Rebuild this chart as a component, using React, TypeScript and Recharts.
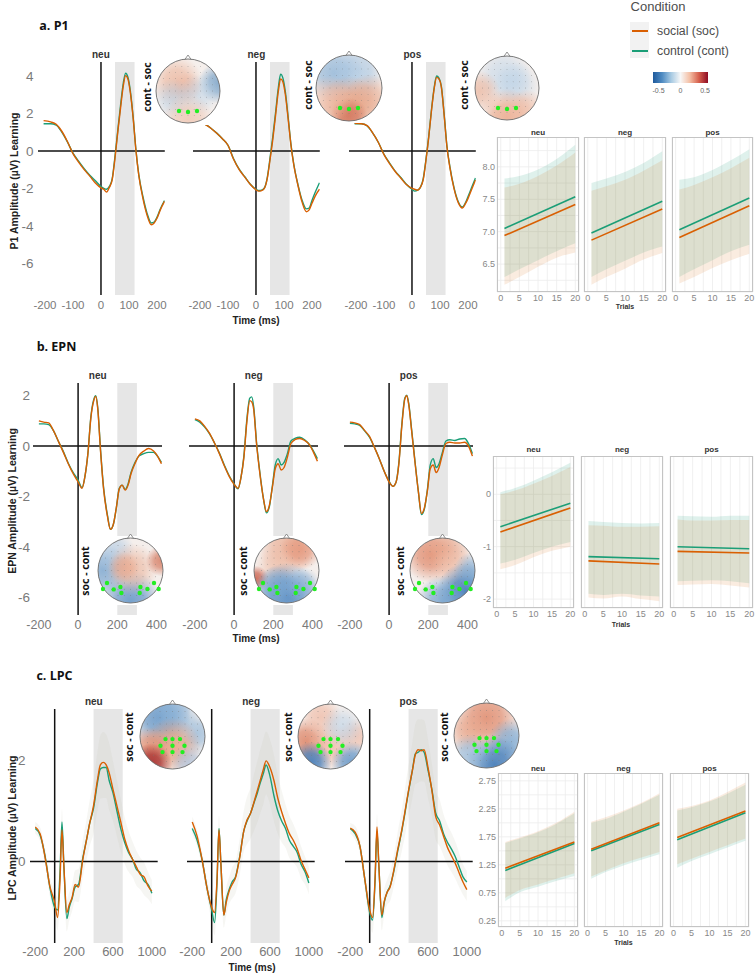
import React from 'react';
import { ComposedChart, Line, Area, XAxis, YAxis, ReferenceLine, ReferenceArea, CartesianGrid } from 'recharts';

const SOC = '#d95f02';
const CONT = '#1b9e77';
const FONT = '"Liberation Sans", Arial, sans-serif';
const TICK_GREY = '#7a7a7a';

// ---------- ERP waveforms (ms, µV) ----------
const P1_T = [-205, -180, -160, -140, -120, -100, -80, -60, -40, -20, 0, 10, 20, 30, 40, 50, 60, 70, 80, 88, 96, 105, 115, 125, 135, 150, 165, 180, 190, 200, 212, 227];
const p1NeuSoc = [1.62, 1.55, 1.42, 1.05, 0.5, -0.15, -0.6, -1.0, -1.35, -1.72, -1.98, -2.05, -2.2, -1.95, -1.55, -0.4, 1.0, 2.3, 3.5, 4.02, 3.85, 3.1, 1.75, 0.0, -1.3, -2.55, -3.45, -3.95, -3.85, -3.6, -3.15, -2.7];
const p1NeuCont = [1.45, 1.45, 1.38, 1.0, 0.48, -0.12, -0.55, -0.95, -1.3, -1.6, -1.9, -2.0, -2.05, -1.9, -1.5, -0.3, 1.1, 2.45, 3.65, 4.15, 3.95, 3.2, 1.8, 0.05, -1.25, -2.45, -3.35, -3.85, -3.8, -3.55, -3.1, -2.65];
const p1NegSoc = [1.6, 1.4, 1.2, 0.94, 0.65, 0.3, -0.45, -1.0, -1.4, -1.8, -2.08, -2.15, -2.12, -2.0, -1.5, -0.5, 0.6, 1.9, 3.2, 3.85, 3.7, 3.0, 1.7, 0.3, -0.75, -1.85, -2.75, -3.25, -3.15, -2.8, -2.4, -2.05];
const p1NegCont = [1.5, 1.4, 1.2, 0.95, 0.65, 0.3, -0.42, -0.98, -1.38, -1.78, -2.05, -2.12, -2.1, -1.98, -1.45, -0.4, 0.75, 2.05, 3.4, 4.1, 3.9, 3.15, 1.8, 0.35, -0.7, -1.8, -2.65, -3.1, -3.05, -2.65, -2.2, -1.7];
const p1PosSoc = [1.48, 1.45, 1.35, 0.95, 0.45, -0.2, -0.68, -1.1, -1.45, -1.8, -2.0, -2.05, -2.1, -1.95, -1.55, -0.5, 0.75, 2.2, 3.4, 3.93, 3.85, 3.4, 1.9, 0.2, -0.85, -2.0, -2.75, -3.05, -2.85, -2.55, -2.1, -1.55];
const p1PosCont = [1.45, 1.45, 1.33, 0.95, 0.45, -0.18, -0.65, -1.08, -1.42, -1.78, -2.05, -2.15, -2.1, -1.95, -1.5, -0.45, 0.8, 2.25, 3.45, 4.0, 3.9, 3.45, 1.95, 0.25, -0.8, -1.95, -2.7, -3.0, -2.8, -2.45, -2.0, -1.45];

const EPN_T = [-200, -175, -150, -125, -100, -75, -50, -25, 0, 20, 35, 50, 65, 80, 90, 100, 115, 130, 150, 165, 180, 195, 210, 225, 240, 255, 270, 290, 310, 335, 360, 385, 405, 425];
const epnNeuSoc = [1.0, 0.95, 0.92, 0.6, 0.18, -0.25, -0.7, -1.1, -1.42, -1.68, -1.2, -0.3, 1.1, 1.8, 1.97, 1.5, -0.25, -1.7, -2.8, -3.3, -3.1, -2.45, -1.7, -1.55, -1.75, -1.55, -1.1, -0.7, -0.38, -0.2, -0.1, -0.2, -0.4, -0.7];
const epnNeuCont = [0.88, 0.88, 0.85, 0.6, 0.18, -0.22, -0.68, -1.05, -1.35, -1.65, -1.2, -0.3, 1.15, 1.85, 2.0, 1.55, -0.2, -1.65, -2.75, -3.3, -3.1, -2.45, -1.68, -1.55, -1.72, -1.5, -1.05, -0.65, -0.4, -0.3, -0.25, -0.25, -0.4, -0.65];
const epnNegSoc = [1.08, 1.0, 0.78, 0.5, 0.12, -0.3, -0.78, -1.2, -1.52, -1.68, -1.25, -0.45, 0.95, 1.8, 1.75, 1.45, 0.05, -1.0, -2.1, -2.6, -2.35, -1.65, -0.9, -0.7, -0.95, -0.85, -0.5, 0.1, 0.25, 0.3, 0.22, 0.05, -0.25, -0.6];
const epnNegCont = [1.05, 0.95, 0.75, 0.48, 0.12, -0.28, -0.75, -1.18, -1.5, -1.7, -1.25, -0.4, 1.05, 1.9, 1.95, 1.55, 0.1, -0.95, -2.1, -2.65, -2.4, -1.6, -0.75, -0.5, -0.75, -0.65, -0.35, 0.2, 0.3, 0.35, 0.25, 0.05, -0.2, -0.5];
const epnPosSoc = [0.95, 0.92, 0.85, 0.62, 0.38, -0.05, -0.5, -1.0, -1.42, -1.6, -1.45, -0.7, 0.8, 1.85, 2.0, 1.65, 0.6, -0.5, -1.85, -2.67, -2.45, -1.8, -0.9, -0.75, -1.05, -0.85, -0.4, 0.1, 0.15, 0.12, 0.12, 0.15, 0.0, -0.4];
const epnPosCont = [0.9, 0.88, 0.82, 0.6, 0.35, -0.05, -0.5, -1.0, -1.4, -1.6, -1.45, -0.65, 0.85, 1.9, 2.02, 1.7, 0.65, -0.45, -1.85, -2.72, -2.5, -1.75, -0.75, -0.5, -0.85, -0.7, -0.3, 0.2, 0.25, 0.22, 0.28, 0.3, 0.1, -0.3];

const LPC_T = [-200, -150, -100, -50, 0, 30, 55, 75, 95, 125, 150, 180, 210, 245, 290, 330, 360, 400, 440, 470, 500, 530, 560, 600, 640, 680, 720, 760, 800, 840, 880, 920, 960, 1000];
const lpcNeuSoc = [0.68, 0.55, 0.1, -0.48, -0.8, -1.1, -0.36, 0.62, -0.1, -1.0, -0.85, -0.7, -0.45, -0.5, 0.05, 0.45, 0.75, 1.1, 1.6, 1.9, 1.95, 1.9, 1.75, 1.42, 1.1, 0.78, 0.45, 0.22, 0.05, -0.1, -0.25, -0.3, -0.48, -0.58];
const lpcNeuCont = [0.65, 0.52, 0.12, -0.5, -0.9, -0.95, -0.2, 0.78, -0.1, -1.12, -0.9, -0.72, -0.5, -0.45, 0.08, 0.45, 0.75, 1.05, 1.55, 1.82, 1.85, 1.85, 1.6, 1.35, 1.0, 0.65, 0.38, 0.18, 0.05, -0.15, -0.22, -0.38, -0.45, -0.62];
const lpcNegSoc = [0.78, 0.5, 0.05, -0.5, -0.9, -1.0, -0.35, 0.62, -0.05, -1.05, -0.8, -0.58, -0.45, -0.32, 0.1, 0.6, 0.8, 0.95, 1.2, 1.4, 1.6, 1.8, 1.98, 1.85, 1.6, 1.25, 0.98, 0.75, 0.55, 0.42, 0.25, 0.02, -0.15, -0.32];
const lpcNegCont = [0.65, 0.42, 0.05, -0.5, -0.95, -1.2, -0.4, 0.65, -0.05, -1.05, -0.75, -0.55, -0.4, -0.3, 0.12, 0.6, 0.78, 0.95, 1.18, 1.35, 1.55, 1.72, 1.9, 1.68, 1.3, 1.0, 0.8, 0.65, 0.42, 0.3, 0.18, -0.05, -0.2, -0.42];
const lpcPosSoc = [0.66, 0.58, 0.3, -0.35, -0.95, -1.1, -0.35, 0.68, -0.1, -1.05, -0.78, -0.6, -0.5, -0.2, 0.25, 0.62, 0.95, 1.4, 1.8, 2.1, 2.2, 2.18, 2.2, 1.85, 1.4, 0.88, 0.72, 0.5, 0.28, 0.12, -0.03, -0.22, -0.4, -0.55];
const lpcPosCont = [0.65, 0.55, 0.3, -0.35, -1.0, -1.15, -0.4, 0.6, -0.1, -1.1, -0.8, -0.6, -0.48, -0.22, 0.22, 0.6, 0.92, 1.38, 1.8, 2.12, 2.15, 2.2, 2.15, 1.8, 1.42, 0.95, 0.8, 0.55, 0.38, 0.25, 0.1, -0.1, -0.3, -0.4];
const lpcCiHalf = [0.1, 0.12, 0.15, 0.18, 0.22, 0.25, 0.25, 0.25, 0.25, 0.25, 0.25, 0.25, 0.28, 0.3, 0.35, 0.4, 0.45, 0.5, 0.55, 0.58, 0.6, 0.6, 0.58, 0.55, 0.5, 0.45, 0.42, 0.38, 0.35, 0.32, 0.3, 0.28, 0.25, 0.22];

// ---------- model estimates over trials ----------
const LINE_TRIALS = [1, 20];
const BAND_TRIALS = [1, 5, 10, 15, 20];
const TRIAL_TICKS = [0, 2.5, 5, 7.5, 10, 12.5, 15, 17.5, 20];

const p1NeuLine = { soc: [6.94, 7.42], cont: [7.05, 7.54] };
const p1NegLine = { soc: [6.87, 7.35], cont: [6.98, 7.47] };
const p1PosLine = { soc: [6.91, 7.4], cont: [7.03, 7.52] };
const p1NeuBand = { socLo: [6.18, 6.3, 6.46, 6.6, 6.68], socHi: [7.68, 7.74, 7.86, 8.02, 8.22], contLo: [6.3, 6.42, 6.56, 6.7, 6.82], contHi: [7.82, 7.86, 7.96, 8.12, 8.34] };
const p1NegBand = { socLo: [6.18, 6.3, 6.43, 6.57, 6.67], socHi: [7.63, 7.7, 7.8, 7.94, 8.1], contLo: [6.3, 6.42, 6.55, 6.68, 6.77], contHi: [7.75, 7.82, 7.92, 8.06, 8.24] };
const p1PosBand = { socLo: [6.2, 6.3, 6.44, 6.56, 6.66], socHi: [7.65, 7.72, 7.84, 7.98, 8.14], contLo: [6.3, 6.42, 6.56, 6.7, 6.8], contHi: [7.8, 7.84, 7.95, 8.1, 8.27] };

const epnNeuLine = { soc: [-0.72, -0.26], cont: [-0.62, -0.17] };
const epnNegLine = { soc: [-1.27, -1.33], cont: [-1.19, -1.23] };
const epnPosLine = { soc: [-1.09, -1.12], cont: [-1.0, -1.04] };
const epnNeuBand = { socLo: [-1.43, -1.35, -1.2, -1.08, -1.0], socHi: [0.0, 0.07, 0.2, 0.35, 0.52], contLo: [-1.32, -1.25, -1.12, -1.0, -0.91], contHi: [0.04, 0.12, 0.26, 0.42, 0.6] };
const epnNegBand = { socLo: [-1.97, -1.99, -1.95, -2.0, -2.04], socHi: [-0.59, -0.6, -0.62, -0.62, -0.61], contLo: [-1.9, -1.92, -1.9, -1.93, -1.95], contHi: [-0.51, -0.53, -0.55, -0.56, -0.55] };
const epnPosBand = { socLo: [-1.73, -1.72, -1.71, -1.74, -1.78], socHi: [-0.48, -0.5, -0.5, -0.49, -0.49], contLo: [-1.66, -1.65, -1.64, -1.66, -1.7], contHi: [-0.41, -0.42, -0.43, -0.41, -0.41] };

const lpcNeuLine = { soc: [1.19, 1.66], cont: [1.15, 1.63] };
const lpcNegLine = { soc: [1.53, 2.0], cont: [1.5, 1.97] };
const lpcPosLine = { soc: [1.74, 2.21], cont: [1.7, 2.18] };
const lpcNeuBand = { socLo: [0.66, 0.8, 0.9, 1.0, 1.1], socHi: [1.66, 1.74, 1.85, 2.0, 2.2], contLo: [0.6, 0.76, 0.86, 0.96, 1.05], contHi: [1.64, 1.72, 1.83, 1.98, 2.17] };
const lpcNegBand = { socLo: [1.04, 1.15, 1.28, 1.38, 1.48], socHi: [2.02, 2.1, 2.22, 2.36, 2.53], contLo: [1.0, 1.12, 1.24, 1.34, 1.44], contHi: [2.0, 2.07, 2.2, 2.34, 2.5] };
const lpcPosBand = { socLo: [1.26, 1.36, 1.48, 1.6, 1.72], socHi: [2.25, 2.3, 2.4, 2.55, 2.72], contLo: [1.2, 1.32, 1.44, 1.56, 1.68], contHi: [2.22, 2.28, 2.38, 2.52, 2.68] };

// ---------- topography blobs [dx, dy, radius (in r units), colour, opacity] ----------
type Blob = [number, number, number, string, number];
const TOPO = {
  p1neu: [[-0.35, -0.3, 0.5, '#e9a586', 0.6], [0.0, -0.1, 0.3, '#eab09a', 0.5], [0.95, -0.25, 0.4, '#6b9ac4', 0.75], [-0.45, 0.25, 0.4, '#a9c6e0', 0.5], [0.35, 0.1, 0.4, '#b9d1e6', 0.55], [0, 0.9, 0.5, '#eec0aa', 0.7]] as Blob[],
  p1neg: [[-0.45, -0.45, 0.55, '#8fb5d8', 0.8], [0.3, -0.55, 0.5, '#a8c6e2', 0.7], [0.4, -0.1, 0.35, '#bcd3e8', 0.5], [0, 0.6, 0.6, '#e39a7a', 0.85], [0.6, 0.3, 0.45, '#e8a88b', 0.7], [0, 0.85, 0.35, '#cf6a52', 0.7], [-0.6, 0.35, 0.45, '#eeb79f', 0.6]] as Blob[],
  p1pos: [[-0.1, -0.4, 0.55, '#bcd3e8', 0.6], [0.3, -0.1, 0.45, '#b0cce5', 0.5], [-0.85, 0.1, 0.4, '#eab39b', 0.7], [0, 0.9, 0.55, '#eaa687', 0.8], [0.6, 0.6, 0.35, '#eeb8a0', 0.6]] as Blob[],
  epnneu: [[-0.85, 0.0, 0.5, '#7fa9d1', 0.85], [0, 0.95, 0.6, '#5f93c6', 0.85], [-0.5, -0.6, 0.4, '#a9c6e2', 0.6], [0.05, -0.05, 0.5, '#eab39b', 0.7], [0.95, -0.3, 0.3, '#d4765b', 0.8], [-0.2, -0.1, 0.3, '#e79f82', 0.6]] as Blob[],
  epnneg: [[0, -0.7, 0.55, '#eaad93', 0.8], [0.45, -0.65, 0.4, '#e49478', 0.8], [-0.35, -0.1, 0.4, '#eebda7', 0.6], [-0.95, 0.25, 0.25, '#c95c48', 0.85], [0, 0.8, 0.65, '#4f86c0', 0.9], [-0.3, 0.5, 0.4, '#7aa7d1', 0.7], [0.5, 0.45, 0.35, '#8ab2d7', 0.6]] as Blob[],
  epnpos: [[-0.35, -0.5, 0.55, '#e08a6c', 0.85], [0.2, -0.6, 0.45, '#e9a88d', 0.7], [0.3, -0.1, 0.4, '#f0c3af', 0.6], [0.7, 0.65, 0.55, '#3f79b7', 0.9], [0, 0.95, 0.5, '#6e9fcd', 0.8], [0.9, 0.0, 0.35, '#7aa7d1', 0.7]] as Blob[],
  lpcneu: [[-0.4, -0.6, 0.6, '#5f93c6', 0.85], [0.1, -0.7, 0.45, '#8ab2d7', 0.7], [0.75, -0.1, 0.4, '#8fb5d8', 0.7], [0.0, 0.3, 0.55, '#e39a7a', 0.8], [-0.7, 0.35, 0.4, '#e08a6c', 0.8], [-0.65, 0.85, 0.4, '#a52a2a', 0.9], [0.5, 0.8, 0.35, '#9cbde0', 0.6]] as Blob[],
  lpcneg: [[-0.75, 0.15, 0.45, '#dd8466', 0.85], [-0.3, -0.6, 0.4, '#eeb6a0', 0.7], [0, 0.3, 0.45, '#eeb39b', 0.7], [0.8, 0.0, 0.35, '#eab09a', 0.6], [-0.6, 0.8, 0.4, '#3f79b7', 0.9], [0.65, 0.8, 0.4, '#5f93c6', 0.85], [0.35, -0.3, 0.4, '#b8d0e6', 0.6]] as Blob[],
  lpcpos: [[0, -0.55, 0.65, '#e08a6c', 0.85], [-0.6, -0.1, 0.4, '#e9a88d', 0.7], [0.75, 0.2, 0.45, '#7aa7d1', 0.8], [0.25, 0.9, 0.55, '#3f79b7', 0.9], [-0.5, 0.6, 0.4, '#8ab2d7', 0.7]] as Blob[],
};
const PICKS_P1 = [[-9, 20], [0, 21], [9, 20]];
const PICKS_EPN = [[-27.5, 18.5], [-23.5, 12.5], [-16.8, 18.9], [-10.1, 16.5], [-9.1, 22.5], [9.9, 16.5], [9.2, 22.5], [16.9, 18.5], [23.5, 12.5], [28.2, 18.5]];
const PICKS_LPC = [[-7, 2.6], [0, 2.6], [7.5, 2.6], [-12, 9.3], [0, 9.3], [12, 9.3], [-10, 15.6], [0, 15.6], [10, 15.6]];

type Rect = { l: number; t: number; w: number; h: number };

function erpRows(times: number[], soc: number[], cont: number[], half?: number[]) {
  return times.map((t, i) => ({
    t,
    soc: soc[i],
    cont: cont[i],
    band: half ? [Math.min(soc[i], cont[i]) - half[i], Math.max(soc[i], cont[i]) + half[i]] : undefined,
  }));
}

function trialRows(line: { soc: number[]; cont: number[] }, band: { socLo: number[]; socHi: number[]; contLo: number[]; contHi: number[] }) {
  return BAND_TRIALS.map((t, i) => {
    const li = LINE_TRIALS.indexOf(t);
    return {
      t,
      soc: li >= 0 ? line.soc[li] : null,
      cont: li >= 0 ? line.cont[li] : null,
      socBand: [band.socLo[i], band.socHi[i]],
      contBand: [band.contLo[i], band.contHi[i]],
    };
  });
}

function Txt({ x, y, text, size, bold, color, rotate, family }: any) {
  return (
    <div
      style={{
        position: 'absolute',
        left: x,
        top: y,
        transform: `translate(-50%, -50%)${rotate ? ' rotate(-90deg)' : ''}`,
        fontSize: size,
        fontWeight: bold ? 700 : 400,
        color: color || '#222',
        whiteSpace: 'nowrap',
        fontFamily: family || FONT,
        lineHeight: 1,
      }}
    >
      {text}
    </div>
  );
}

const SIDE = 18; // room either side so edge tick labels are not cut

function ErpPanel({ rows, xDomain, yDomain, xTicks, yTicks, win, rect, showY, band, xFont, yFont, xGap, yGap }: any) {
  const yW = showY ? 34 : 0;
  const xH = 26;
  return (
    <div style={{ position: 'absolute', left: rect.l - yW - SIDE, top: rect.t }}>
      <ComposedChart width={rect.w + yW + 2 * SIDE} height={rect.h + xH} data={rows} margin={{ top: 0, right: SIDE, bottom: 0, left: SIDE }}>
        <XAxis
          dataKey="t"
          type="number"
          domain={xDomain}
          ticks={xTicks}
          allowDataOverflow
          axisLine={false}
          tickLine={false}
          tickSize={xGap}
          tickMargin={2}
          interval={0}
          height={xH}
          tick={{ fill: TICK_GREY, fontSize: xFont, fontFamily: FONT }}
        />
        <YAxis
          type="number"
          domain={yDomain}
          ticks={yTicks}
          allowDataOverflow
          width={yW}
          axisLine={false}
          tickLine={false}
          tickSize={2}
          tickMargin={yGap}
          interval={0}
          tick={showY ? { fill: TICK_GREY, fontSize: yFont, fontFamily: FONT } : false}
        />
        <ReferenceArea x1={win[0]} x2={win[1]} fill="#e6e6e6" fillOpacity={1} stroke="none" />
        {band && (
          <Area dataKey="band" type="monotone" stroke="none" fill="#c9c9b6" fillOpacity={0.16} isAnimationActive={false} />
        )}
        <ReferenceLine x={0} stroke="#111" strokeWidth={1.5} />
        <ReferenceLine y={0} stroke="#111" strokeWidth={1.5} />
        <Line dataKey="cont" type="monotone" stroke={CONT} strokeWidth={1.4} dot={false} isAnimationActive={false} />
        <Line dataKey="soc" type="monotone" stroke={SOC} strokeWidth={1.4} dot={false} isAnimationActive={false} />
      </ComposedChart>
    </div>
  );
}

function TrialPanel({ rows, yDomain, yTicks, yMajor, yFmt, rect, showY }: any) {
  const yW = showY ? 26 : 0;
  const xH = 14;
  const side = 6;
  return (
    <>
      <div style={{ position: 'absolute', left: rect.l - yW - side, top: rect.t }}>
        <ComposedChart width={rect.w + yW + 2 * side} height={rect.h + xH} data={rows} margin={{ top: 0, right: side, bottom: 0, left: side }}>
          <CartesianGrid stroke="#ececec" strokeWidth={0.8} />
          <XAxis
            dataKey="t"
            type="number"
            domain={[-1, 21]}
            ticks={TRIAL_TICKS}
            tickFormatter={(v: number) => (v % 5 === 0 ? String(v) : '')}
            allowDataOverflow
            axisLine={false}
            tickLine={false}
            tickSize={1}
            tickMargin={2}
            interval={0}
            height={xH}
            tick={{ fill: '#888', fontSize: 9, fontFamily: FONT }}
          />
          <YAxis
            type="number"
            domain={yDomain}
            ticks={yTicks}
            tickFormatter={(v: number) => (yMajor.includes(v) ? yFmt(v) : '')}
            allowDataOverflow
            width={yW}
            axisLine={false}
            tickLine={false}
            tickSize={1}
            tickMargin={1}
            interval={0}
            tick={showY ? { fill: '#888', fontSize: 9, fontFamily: FONT } : false}
          />
          <Area dataKey="contBand" type="monotone" stroke="none" fill={CONT} fillOpacity={0.14} isAnimationActive={false} />
          <Area dataKey="socBand" type="monotone" stroke="none" fill={SOC} fillOpacity={0.12} isAnimationActive={false} />
          <Line dataKey="cont" connectNulls stroke={CONT} strokeWidth={1.6} dot={false} isAnimationActive={false} />
          <Line dataKey="soc" connectNulls stroke={SOC} strokeWidth={1.6} dot={false} isAnimationActive={false} />
        </ComposedChart>
      </div>
      <div style={{ position: 'absolute', left: rect.l, top: rect.t, width: rect.w, height: rect.h, border: '1px solid #c4c4c4', boxSizing: 'border-box' }} />
    </>
  );
}

function Topo({ id, cx, cy, r, blobs, picks }: any) {
  const pad = 2;
  const nose = 4;
  const w = 2 * r + 2 * pad;
  const h = 2 * r + 2 * pad + nose;
  const ox = r + pad;
  const oy = r + pad + nose;
  const dots: number[][] = [];
  const step = r / 5.2;
  for (let i = -6; i <= 6; i++) {
    for (let j = -6; j <= 6; j++) {
      const x = i * step;
      const y = j * step;
      if (x * x + y * y < (r * 0.93) * (r * 0.93)) dots.push([x, y]);
    }
  }
  return (
    <svg style={{ position: 'absolute', left: cx - ox, top: cy - oy }} width={w} height={h}>
      <defs>
        <clipPath id={`${id}-clip`}>
          <circle cx={ox} cy={oy} r={r} />
        </clipPath>
        {blobs.map((b: Blob, k: number) => (
          <radialGradient key={k} id={`${id}-g${k}`}>
            <stop offset="0" stopColor={b[3]} stopOpacity={b[4]} />
            <stop offset="0.45" stopColor={b[3]} stopOpacity={b[4] * 0.8} />
            <stop offset="1" stopColor={b[3]} stopOpacity={0} />
          </radialGradient>
        ))}
      </defs>
      <rect x={0} y={nose} width={w} height={h - nose} fill="#fff" />
      <polygon points={`${ox - 3.5},${oy - r + 1} ${ox},${oy - r - 4} ${ox + 3.5},${oy - r + 1}`} fill="#fff" stroke="#777" strokeWidth={0.8} />
      <g clipPath={`url(#${id}-clip)`}>
        <circle cx={ox} cy={oy} r={r} fill="#f5efec" />
        {blobs.map((b: Blob, k: number) => (
          <circle key={k} cx={ox + b[0] * r} cy={oy + b[1] * r} r={b[2] * r * 1.6} fill={`url(#${id}-g${k})`} />
        ))}
        {dots.map((d, k) => (
          <circle key={k} cx={ox + d[0]} cy={oy + d[1]} r={0.4} fill="#777" />
        ))}
      </g>
      <circle cx={ox} cy={oy} r={r} fill="none" stroke="#6b6b6b" strokeWidth={0.9} />
      {picks.map((p: number[], k: number) => (
        <circle key={k} cx={ox + p[0]} cy={oy + p[1]} r={2.2} fill="#22ee22" />
      ))}
    </svg>
  );
}

const P1_Y = [-7.7, 4.75];
const EPN_Y = [-6.7, 2.5];
const LPC_Y = [-1.6, 3.0];

export default function App() {
  const p1Rects: Rect[] = [
    { l: 37.5, t: 62, w: 126.8, h: 233 },
    { l: 193, t: 62, w: 126.8, h: 233 },
    { l: 349, t: 62, w: 126.8, h: 233 },
  ];
  const epnRects: Rect[] = [
    { l: 33.2, t: 383, w: 129, h: 232 },
    { l: 189.2, t: 383, w: 129, h: 232 },
    { l: 344.2, t: 383, w: 129, h: 232 },
  ];
  const lpcRects: Rect[] = [
    { l: 30, t: 709, w: 127.7, h: 234 },
    { l: 187.3, t: 709, w: 127.7, h: 234 },
    { l: 344.6, t: 709, w: 127.7, h: 234 },
  ];
  const p1Trial: Rect[] = [
    { l: 497, t: 137, w: 82, h: 155 },
    { l: 584, t: 137, w: 82, h: 155 },
    { l: 672, t: 137, w: 81, h: 155 },
  ];
  const epnTrial: Rect[] = [
    { l: 493, t: 456, w: 81, h: 152 },
    { l: 581, t: 456, w: 82, h: 152 },
    { l: 670, t: 456, w: 83, h: 152 },
  ];
  const lpcTrial: Rect[] = [
    { l: 498, t: 773, w: 80, h: 154 },
    { l: 584, t: 773, w: 79, h: 154 },
    { l: 670, t: 773, w: 79, h: 154 },
  ];
  const labels = ['neu', 'neg', 'pos'];

  const p1Erp = [erpRows(P1_T, p1NeuSoc, p1NeuCont), erpRows(P1_T, p1NegSoc, p1NegCont), erpRows(P1_T, p1PosSoc, p1PosCont)];
  const epnErp = [erpRows(EPN_T, epnNeuSoc, epnNeuCont), erpRows(EPN_T, epnNegSoc, epnNegCont), erpRows(EPN_T, epnPosSoc, epnPosCont)];
  const lpcErp = [
    erpRows(LPC_T, lpcNeuSoc, lpcNeuCont, lpcCiHalf),
    erpRows(LPC_T, lpcNegSoc, lpcNegCont, lpcCiHalf),
    erpRows(LPC_T, lpcPosSoc, lpcPosCont, lpcCiHalf),
  ];
  const p1Tr = [trialRows(p1NeuLine, p1NeuBand), trialRows(p1NegLine, p1NegBand), trialRows(p1PosLine, p1PosBand)];
  const epnTr = [trialRows(epnNeuLine, epnNeuBand), trialRows(epnNegLine, epnNegBand), trialRows(epnPosLine, epnPosBand)];
  const lpcTr = [trialRows(lpcNeuLine, lpcNeuBand), trialRows(lpcNegLine, lpcNegBand), trialRows(lpcPosLine, lpcPosBand)];

  return (
    <div style={{ position: 'absolute', left: 0, top: 0, width: 756, height: 975, background: '#fff', fontFamily: FONT, overflow: 'hidden' }}>
      {/* section titles */}
      <Txt x={54} y={25.5} text="a. P1" size={12.5} bold color="#111" family='"Open Sans", sans-serif' />
      <Txt x={56.5} y={346.5} text="b. EPN" size={12.5} bold color="#111" family='"Open Sans", sans-serif' />
      <Txt x={54.5} y={676} text="c. LPC" size={12.5} bold color="#111" family='"Open Sans", sans-serif' />

      {/* ERP panels */}
      {p1Rects.map((r, i) => (
        <ErpPanel key={`p1${i}`} rows={p1Erp[i]} xDomain={[-225, 228]} yDomain={P1_Y} xTicks={[-200, -100, 0, 100, 200]} yTicks={[-6, -4, -2, 0, 2, 4]} win={[50, 120]} rect={r} showY={i === 0} xFont={11.5} yFont={13.5} xGap={4} yGap={2.5} />
      ))}
      {epnRects.map((r, i) => (
        <ErpPanel key={`epn${i}`} rows={epnErp[i]} xDomain={[-230, 428]} yDomain={EPN_Y} xTicks={[-200, 0, 200, 400]} yTicks={[-6, -4, -2, 0, 2]} win={[200, 300]} rect={r} showY={i === 0} xFont={12.5} yFont={13.5} xGap={3.5} yGap={1} />
      ))}
      {lpcRects.map((r, i) => (
        <ErpPanel key={`lpc${i}`} rows={lpcErp[i]} xDomain={[-254, 1060]} yDomain={LPC_Y} xTicks={[-200, 200, 600, 1000]} yTicks={[0, 2]} win={[400, 700]} rect={r} showY={i === 0} xFont={13} yFont={13.5} xGap={2} yGap={2.5} band />
      ))}

      {/* strip labels over ERP panels */}
      {p1Rects.map((r, i) => <Txt key={`s1${i}`} x={r.l + r.w / 2} y={54.5} text={labels[i]} size={10} bold color="#333" />)}
      {epnRects.map((r, i) => <Txt key={`s2${i}`} x={r.l + r.w / 2} y={376} text={labels[i]} size={10} bold color="#333" />)}
      {lpcRects.map((r, i) => <Txt key={`s3${i}`} x={r.l + r.w / 2} y={702} text={labels[i]} size={10} bold color="#333" />)}

      {/* axis titles */}
      <Txt x={13.5} y={181} text="P1 Amplitude (µV) Learning" size={10.5} bold rotate />
      <Txt x={12} y={501} text="EPN Amplitude (µV) Learning" size={10.5} bold rotate />
      <Txt x={12} y={828} text="LPC Amplitude (µV) Learning" size={10.5} bold rotate />
      <Txt x={256} y={320.5} text="Time (ms)" size={10} bold />
      <Txt x={256} y={639} text="Time (ms)" size={10} bold />
      <Txt x={252} y={968} text="Time (ms)" size={10} bold />

      {/* topographies */}
      <Topo id="t1" cx={188} cy={91} r={32} blobs={TOPO.p1neu} picks={PICKS_P1} />
      <Topo id="t2" cx={349} cy={88} r={33} blobs={TOPO.p1neg} picks={PICKS_P1} />
      <Topo id="t3" cx={507} cy={88} r={32} blobs={TOPO.p1pos} picks={PICKS_P1} />
      <Txt x={146.7} y={87} text="cont - soc" size={10.5} bold color="#111" rotate family='"Open Sans", sans-serif' />
      <Txt x={308.3} y={85} text="cont - soc" size={10.5} bold color="#111" rotate family='"Open Sans", sans-serif' />
      <Txt x={464.3} y={85} text="cont - soc" size={10.5} bold color="#111" rotate family='"Open Sans", sans-serif' />

      <Topo id="t4" cx={130.8} cy={570.8} r={32.5} blobs={TOPO.epnneu} picks={PICKS_EPN} />
      <Topo id="t5" cx={286} cy={570.8} r={32.5} blobs={TOPO.epnneg} picks={PICKS_EPN} />
      <Topo id="t6" cx={442} cy={570.8} r={32.5} blobs={TOPO.epnpos} picks={PICKS_EPN} />
      <Txt x={85} y={571} text="soc - cont" size={10.5} bold color="#111" rotate family='"Open Sans", sans-serif' />
      <Txt x={243.3} y={571} text="soc - cont" size={10.5} bold color="#111" rotate family='"Open Sans", sans-serif' />
      <Txt x={400} y={571} text="soc - cont" size={10.5} bold color="#111" rotate family='"Open Sans", sans-serif' />

      <Topo id="t7" cx={172.5} cy={736.7} r={32.5} blobs={TOPO.lpcneu} picks={PICKS_LPC} />
      <Topo id="t8" cx={330.7} cy={736.7} r={32.5} blobs={TOPO.lpcneg} picks={PICKS_LPC} />
      <Topo id="t9" cx={486.5} cy={735} r={32.5} blobs={TOPO.lpcpos} picks={PICKS_LPC} />
      <Txt x={129.3} y={737} text="soc - cont" size={10.5} bold color="#111" rotate family='"Open Sans", sans-serif' />
      <Txt x={288.3} y={737} text="soc - cont" size={10.5} bold color="#111" rotate family='"Open Sans", sans-serif' />
      <Txt x={444.3} y={737} text="soc - cont" size={10.5} bold color="#111" rotate family='"Open Sans", sans-serif' />

      {/* trial panels */}
      {p1Trial.map((r, i) => (
        <TrialPanel key={`tp1${i}`} rows={p1Tr[i]} rect={r} showY={i === 0} yDomain={[6.07, 8.46]} yTicks={[6.25, 6.5, 6.75, 7, 7.25, 7.5, 7.75, 8, 8.25]} yMajor={[6.5, 7, 7.5, 8]} yFmt={(v: number) => v.toFixed(1)} />
      ))}
      {epnTrial.map((r, i) => (
        <TrialPanel key={`tp2${i}`} rows={epnTr[i]} rect={r} showY={i === 0} yDomain={[-2.17, 0.73]} yTicks={[-2, -1.5, -1, -0.5, 0, 0.5]} yMajor={[-2, -1, 0]} yFmt={(v: number) => String(v)} />
      ))}
      {lpcTrial.map((r, i) => (
        <TrialPanel key={`tp3${i}`} rows={lpcTr[i]} rect={r} showY={i === 0} yDomain={[0.14, 2.89]} yTicks={[0.25, 0.5, 0.75, 1, 1.25, 1.5, 1.75, 2, 2.25, 2.5, 2.75]} yMajor={[0.25, 0.75, 1.25, 1.75, 2.25, 2.75]} yFmt={(v: number) => v.toFixed(2)} />
      ))}
      {p1Trial.map((r, i) => <Txt key={`ts1${i}`} x={r.l + r.w / 2} y={133} text={labels[i]} size={8} bold color="#333" />)}
      {epnTrial.map((r, i) => <Txt key={`ts2${i}`} x={r.l + r.w / 2} y={450} text={labels[i]} size={8} bold color="#333" />)}
      {lpcTrial.map((r, i) => <Txt key={`ts3${i}`} x={r.l + r.w / 2} y={769} text={labels[i]} size={8} bold color="#333" />)}
      <Txt x={625} y={306} text="Trials" size={7} bold color="#333" />
      <Txt x={621} y={623.5} text="Trials" size={7} bold color="#333" />
      <Txt x={623.5} y={942} text="Trials" size={7} bold color="#333" />

      {/* legend */}
      <Txt x={658} y={6} text="Condition" size={13} color="#4d4d4d" />
      <div style={{ position: 'absolute', left: 630, top: 22, width: 19, height: 36, background: '#f2f2f2' }} />
      <div style={{ position: 'absolute', left: 632, top: 30, width: 16, height: 2, background: SOC }} />
      <div style={{ position: 'absolute', left: 632, top: 50, width: 16, height: 2, background: CONT }} />
      <div style={{ position: 'absolute', left: 657, top: 24, fontSize: 12.3, color: '#4d4d4d', lineHeight: '14px', whiteSpace: 'nowrap' }}>social (soc)</div>
      <div style={{ position: 'absolute', left: 657, top: 44, fontSize: 12.3, color: '#4d4d4d', lineHeight: '14px', whiteSpace: 'nowrap' }}>control (cont)</div>
      <div
        style={{
          position: 'absolute',
          left: 653,
          top: 72,
          width: 55,
          height: 11,
          background: 'linear-gradient(to right, #1f5a9c, #4f8bc2, #a9cbe3, #f7f7f7, #f4c0a6, #d6604d, #8e0c24)',
        }}
      />
      <Txt x={658.5} y={90} text="-0.5" size={7} color="#666" />
      <Txt x={680.5} y={90} text="0" size={7} color="#666" />
      <Txt x={705} y={90} text="0.5" size={7} color="#666" />
    </div>
  );
}
